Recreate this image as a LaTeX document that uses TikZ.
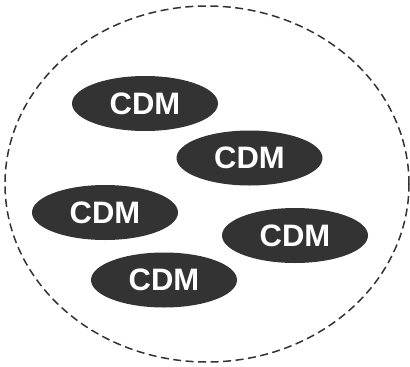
\documentclass[tikz,border=0pt]{standalone}
\usepackage{fontspec}
\setmainfont{Liberation Sans}
\usetikzlibrary{shapes.geometric}
\definecolor{cdmgray}{HTML}{333333}
\tikzset{
  cdm/.style={ellipse, fill=cdmgray, text=white, inner sep=0pt,
    minimum width=146pt, minimum height=55pt,
    font=\fontsize{31}{31}\selectfont\bfseries},
  border/.style={draw=cdmgray, line width=1.5pt, dash pattern=on 8pt off 4.5pt}
}
\begin{document}
\begin{tikzpicture}[x=1pt, y=-1pt]
                \useasboundingbox (0,0) rectangle (410,367);
                \draw[border] (207,184) ellipse [x radius=202pt, y radius=178pt];
                \node[cdm] (cdmA) at (145,103.5) {CDM};
                \node[cdm] (cdmB) at (249.5,158) {CDM};
                \node[cdm] (cdmC) at (105,212.5) {CDM};
                \node[cdm] (cdmD) at (295,235.5) {CDM};
                \node[cdm] (cdmE) at (164,280) {CDM};
        \end{tikzpicture}
\end{document}
